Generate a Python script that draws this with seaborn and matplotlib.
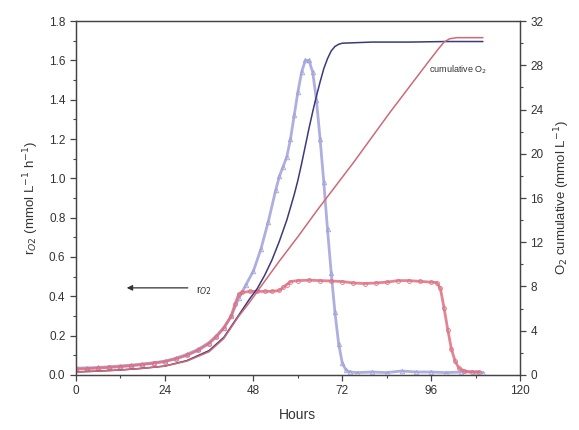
import matplotlib
matplotlib.use("Agg")
import matplotlib.pyplot as plt
import seaborn as sns
import numpy as np
from matplotlib.ticker import MultipleLocator

# ---------------- data ----------------
hours_blue_rate = [0, 3, 6, 9, 12, 15, 18, 21, 24, 27, 30, 33, 36, 38, 40, 42, 44, 46, 48, 50,
                   52, 54, 55, 56, 57, 58, 59, 60, 61, 62, 63, 64, 65, 66, 67, 68, 69, 70,
                   71, 72, 73, 74, 76, 80, 84, 88, 92, 96, 100, 104, 108, 110]
r_blue = [0.035, 0.036, 0.038, 0.042, 0.046, 0.05, 0.056, 0.062, 0.07, 0.085, 0.105, 0.13, 0.165,
          0.2, 0.24, 0.3, 0.39, 0.46, 0.53, 0.64, 0.78, 0.94, 1.01, 1.06, 1.11, 1.2, 1.32, 1.44,
          1.54, 1.60, 1.60, 1.54, 1.40, 1.20, 0.98, 0.74, 0.52, 0.32, 0.16, 0.06, 0.025, 0.015,
          0.012, 0.015, 0.012, 0.02, 0.015, 0.015, 0.012, 0.015, 0.015, 0.012]

hours_red_rate = [0, 3, 6, 9, 12, 15, 18, 21, 24, 27, 30, 33, 36, 38, 40, 42, 43, 44, 45, 47, 49,
                  51, 53, 55, 56, 57, 58, 60, 63, 66, 69, 72, 75, 78, 81, 84, 87, 90, 93, 96,
                  97.5, 98.5, 99.5, 100.5, 101.5, 102.5, 103.5, 105, 107, 109]
r_red = [0.03, 0.032, 0.035, 0.038, 0.042, 0.047, 0.053, 0.06, 0.068, 0.082, 0.1, 0.125, 0.16,
         0.195, 0.24, 0.3, 0.36, 0.41, 0.42, 0.425, 0.425, 0.425, 0.425, 0.43, 0.445, 0.46,
         0.475, 0.48, 0.482, 0.48, 0.478, 0.475, 0.468, 0.465, 0.468, 0.472, 0.48, 0.48, 0.476,
         0.472, 0.47, 0.44, 0.34, 0.23, 0.13, 0.07, 0.035, 0.02, 0.015, 0.015]

hours_blue_cum = [0, 6, 12, 18, 24, 30, 36, 40, 44, 47, 49, 51, 53, 55, 57, 59, 60, 61, 62, 63,
                  64, 65, 66, 67, 68, 69, 70, 71, 72, 76, 80, 90, 100, 110]
cum_blue = [0.27, 0.35, 0.45, 0.6, 0.8, 1.3, 2.2, 3.4, 5.4, 6.9, 7.8, 9.0, 10.4, 12.1, 14.0, 16.3,
            17.6, 19.1, 20.7, 22.3, 23.8, 25.2, 26.5, 27.7, 28.6, 29.3, 29.7, 29.9, 30.0, 30.05,
            30.1, 30.1, 30.15, 30.15]

hours_red_cum = [0, 6, 12, 18, 24, 30, 36, 40, 44, 47, 50, 55, 60, 65, 70, 75, 80, 85, 90, 95,
                 98, 99.5, 101, 103, 110]
cum_red = [0.27, 0.35, 0.45, 0.6, 0.8, 1.25, 2.1, 3.3, 5.3, 6.6, 8.0, 10.3, 12.5, 14.8, 17.0, 19.2,
           21.5, 23.8, 26.0, 28.2, 29.5, 30.1, 30.4, 30.5, 30.5]

x_ticks = [0, 24, 48, 72, 96, 120]

# ---------------- style ----------------
sns.set_style("ticks")
plt.rcParams['font.family'] = ['Liberation Sans', 'DejaVu Sans']
plt.rcParams['axes.edgecolor'] = '#444444'
plt.rcParams['xtick.color'] = '#444444'
plt.rcParams['ytick.color'] = '#444444'
plt.rcParams['axes.linewidth'] = 0.9

c_blue_mk = '#a0a0da'
c_red_mk = '#de6f80'
c_blue_ln = '#3a3a7c'
c_red_ln = '#cc6a78'

fig = plt.figure(figsize=(5.79, 4.30), dpi=100)
ax = fig.add_axes([0.131, 0.128, 0.767, 0.823])
ax2 = ax.twinx()

# rate series (left axis)
sns.lineplot(x=hours_blue_rate, y=r_blue, ax=ax, color=c_blue_mk, lw=2.0, alpha=0.85,
             marker='^', markersize=3.2, markerfacecolor='none', markeredgecolor=c_blue_mk,
             markeredgewidth=0.7, estimator=None, sort=False, zorder=3)
sns.lineplot(x=hours_red_rate, y=r_red, ax=ax, color=c_red_mk, lw=2.0, alpha=0.85,
             marker='o', markersize=2.8, markerfacecolor='none', markeredgecolor=c_red_mk,
             markeredgewidth=0.7, estimator=None, sort=False, zorder=3)

# cumulative series (right axis)
sns.lineplot(x=hours_blue_cum, y=cum_blue, ax=ax2, color=c_blue_ln, lw=1.1,
             estimator=None, sort=False)
sns.lineplot(x=hours_red_cum, y=cum_red, ax=ax2, color=c_red_ln, lw=1.1,
             estimator=None, sort=False)

# axes setup
ax.set_xlim(0, 120)
ax.set_ylim(0, 1.8)
ax2.set_ylim(0, 32)
ax.set_xticks(x_ticks)
ax.xaxis.set_minor_locator(MultipleLocator(12))
ax.yaxis.set_major_locator(MultipleLocator(0.2))
ax.yaxis.set_minor_locator(MultipleLocator(0.1))
ax2.yaxis.set_major_locator(MultipleLocator(4))
ax2.yaxis.set_minor_locator(MultipleLocator(2))
ax.yaxis.set_major_formatter(matplotlib.ticker.FormatStrFormatter('%.1f'))

for a in (ax, ax2):
    a.tick_params(which='major', length=4, width=0.9, labelsize=8.5, labelcolor='#333333')
    a.tick_params(which='minor', length=2.5, width=0.8)
    for s in a.spines.values():
        s.set_visible(True)

ax.set_xlabel('Hours', fontsize=10, color='#333333', labelpad=8)
ax.set_ylabel(r'r$_{O2}$ (mmol L$^{-1}$ h$^{-1}$)', fontsize=9.5, color='#333333', labelpad=6)
ax2.set_ylabel(r'O$_2$ cumulative (mmol L$^{-1}$)', fontsize=9.5, color='#333333', labelpad=6)

# annotations
ax.annotate('', xy=(13.0, 0.443), xytext=(31.0, 0.443),
            arrowprops=dict(arrowstyle='-|>', color='#333333', lw=0.9, mutation_scale=8))
ax.text(32.5, 0.43, r'r$_{O2}$', fontsize=8, color='#333333', va='center', ha='left')
ax.text(95.5, 1.55, r'cumulative O$_2$', fontsize=6.5, color='#333333', va='center', ha='left')

fig.savefig('out.png', dpi=100)
